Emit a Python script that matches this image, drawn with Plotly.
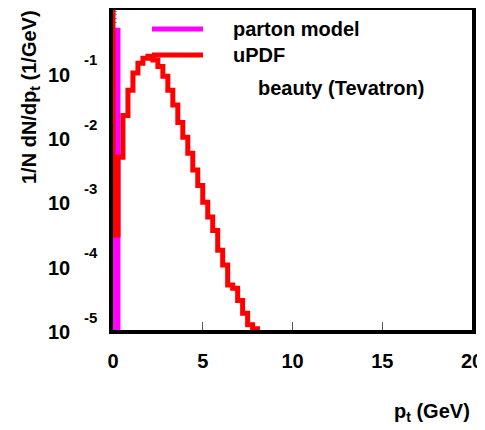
import plotly.graph_objects as go

# ---------------- data ----------------
bin_width = 20.0 / 72.0          # GeV
# uPDF histogram, log10 of 1/N dN/dpt per bin, starting at pt = 0
updf_log10 = [-3.52, -2.31, -1.66, -1.27, -1.00, -0.85, -0.77, -0.74, -0.80,
              -0.90, -1.05, -1.27, -1.50, -1.77, -2.00, -2.25, -2.51, -2.75,
              -3.01, -3.24, -3.45, -3.76, -3.99, -4.30, -4.35, -4.54, -4.74,
              -4.92, -4.98]
# parton model: single bin at pt = 0
parton_log10 = [-0.336]

x_ticks = [0, 5, 10, 15, 20]
y_tick_exp = [-5, -4, -3, -2, -1]

# ---------------- layout constants ----------------
Y_RANGE = [-5, -0.02]
FLOOR = 1e-7
TOP = 10 ** 0.5
FONT = "Liberation Sans, Arial, sans-serif"
OFF = 8                      # page body margin of the html page
W, H = 485, 430
# plot frame in screen pixels: x 113..472, y 10..330
ML = 113 - OFF
MT = 10 - OFF
MR = W - (472 - OFF)
MB = H - (330 - OFF)


def step_path(logvals, start_top):
    xs, ys = [], []
    first = TOP if start_top else FLOOR
    xs.append(0.0); ys.append(first)
    for i, lv in enumerate(logvals):
        xs.append(i * bin_width); ys.append(10 ** lv)
    xs.append(len(logvals) * bin_width); ys.append(FLOOR)
    return xs, ys


fig = go.Figure()

px_, py_ = step_path(parton_log10, False)
fig.add_trace(go.Scatter(x=px_, y=py_, mode="lines", line_shape="hv",
                         line=dict(color="#ff00ff", width=5),
                         showlegend=False, hoverinfo="skip"))

ux, uy = step_path(updf_log10, True)
fig.add_trace(go.Scatter(x=ux, y=uy, mode="lines", line_shape="hv",
                         line=dict(color="#ff0000", width=5),
                         showlegend=False, hoverinfo="skip"))

bold = dict(family=FONT, size=20, color="black", weight="bold")

fig.update_layout(
    width=W, height=H,
    margin=dict(l=ML, r=MR, t=MT, b=MB, autoexpand=False),
    paper_bgcolor="white", plot_bgcolor="white",
    font=bold,
    showlegend=False,
)

fig.update_xaxes(
    range=[0, 20], tickvals=x_ticks, ticktext=[str(v) for v in x_ticks],
    ticks="inside", ticklen=8, tickwidth=1, tickcolor="#555",
    showline=True, linecolor="black", linewidth=4, mirror=True,
    showgrid=False, zeroline=False, tickfont=bold,
    ticklabelstandoff=10, automargin=False,
)

fig.update_yaxes(
    type="log", range=Y_RANGE,
    tickvals=[10 ** e for e in y_tick_exp],
    showticklabels=False,
    ticks="inside", ticklen=7, tickwidth=1, tickcolor="#777",
    minor=dict(ticks="inside", ticklen=4, tickwidth=1, tickcolor="#999",
               dtick="D1", showgrid=False),
    showline=True, linecolor="black", linewidth=4, mirror=True,
    showgrid=False, zeroline=False, automargin=False,
    layer="below traces",
)

pw = W - ML - MR
ph = H - MT - MB


def px2paper_x(p):          # screen pixel -> paper
    return (p - OFF - ML) / pw


def px2paper_y(p):
    return (H - MB - (p - OFF)) / ph


# y tick labels as "10" with a raised exponent (ROOT style)
for e in y_tick_exp:
    fig.add_annotation(xref="paper", yref="y", x=px2paper_x(72), y=e,
                       xanchor="right", yanchor="middle", showarrow=False,
                       yshift=-2, text="10", font=bold)
    fig.add_annotation(xref="paper", yref="y", x=px2paper_x(82), y=e,
                       xanchor="left", yanchor="middle", showarrow=False,
                       yshift=13, text=str(e),
                       font=dict(family=FONT, size=15, color="black", weight="bold"))

# legend (drawn by hand, ROOT style)
legend_items = [("parton model", "#ff00ff", 29), ("uPDF", "#ff0000", 55)]
for label, col, ypix in legend_items:
    yy = px2paper_y(ypix)
    fig.add_shape(type="line", xref="paper", yref="paper",
                  x0=px2paper_x(152), x1=px2paper_x(203), y0=yy, y1=yy,
                  line=dict(color=col, width=5))
    fig.add_annotation(xref="paper", yref="paper", x=px2paper_x(231), y=yy,
                       xanchor="left", yanchor="middle", showarrow=False,
                       text=label, font=bold)

fig.add_annotation(xref="paper", yref="paper", x=px2paper_x(256), y=px2paper_y(88),
                   xanchor="left", yanchor="middle", showarrow=False,
                   text="beauty (Tevatron)", font=bold)

# axis titles
fig.add_annotation(xref="paper", yref="paper", x=1.0, y=px2paper_y(412),
                   xanchor="right", yanchor="middle", showarrow=False,
                   text="p<sub>t</sub> (GeV)", font=bold)
fig.add_annotation(xref="paper", yref="paper", x=px2paper_x(31), y=px2paper_y(8),
                   xanchor="center", yanchor="top", textangle=-90, showarrow=False,
                   text="1/N dN/dp<sub>t</sub> (1/GeV)", font=bold)

fig.write_html("out.html")
